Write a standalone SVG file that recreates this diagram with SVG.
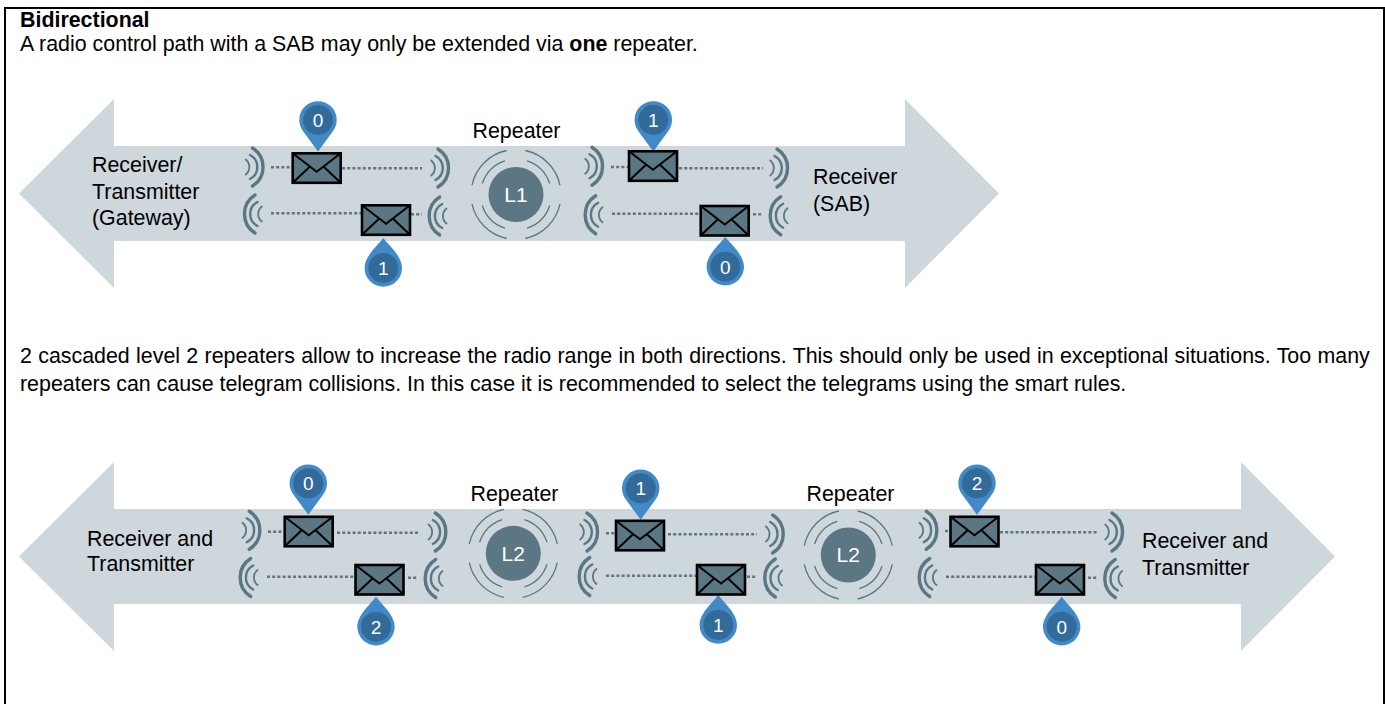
<svg xmlns="http://www.w3.org/2000/svg" xmlns:xlink="http://www.w3.org/1999/xlink" width="1385" height="704" viewBox="0 0 1385 704">
<style>
text{font-family:"Liberation Sans",Arial,sans-serif;font-size:21.4px;fill:#000}
.b{font-weight:bold}
.pt{fill:#fff;font-size:19px;text-anchor:middle}
.rt{fill:#fff;font-size:21px;text-anchor:middle}
.arrow{fill:#ced7dc}
.dot{fill:none;stroke:#5a7783;stroke-width:2.5;stroke-dasharray:3 2.2}
.wv{fill:none;stroke:#5a7783;stroke-linecap:round}
.arc{fill:none;stroke:#5a7783;stroke-width:1.3}
</style>
<defs>
<g id="wr">
<path class="wv" stroke-width="1.8" d="M.2-7.5A9.6 9.6 0 0 1 .2 7.5"/>
<path class="wv" stroke-width="2.4" d="M4.5-12A13.5 13.5 0 0 1 4.5 12"/>
<path class="wv" stroke-width="3.4" d="M7-19A22.4 22.4 0 0 1 7 19"/>
</g>
<g id="env">
<rect x="-24" y="-14.500" width="48" height="29.500" fill="#5a7783" stroke="#000" stroke-width="2.600"/>
<path d="M-24-14.500L0 4 24-14.500M-24 15L-7-1M24 15L7-1" fill="none" stroke="#000" stroke-width="2"/>
</g>
<g id="pd">
<path d="M0 31.500L-14.900 11.200A18.700 18.700 0 1 1 14.900 11.200Z" fill="#4289c8"/>
<circle r="15" fill="#326a9a"/>
</g>
<g id="pu">
<path d="M0-30C-5-23-18.700-12-18.700 0A18.700 18.700 0 1 0 18.700 0C18.700-12 5-23 0-30Z" fill="#4289c8"/>
<circle r="15" fill="#326a9a"/>
</g>
<g id="rep">
<circle r="27.500" fill="#5a7783"/>
<path class="arc" d="M-44-9.400A45 45 0 0 1-9.400-44M9.400-44A45 45 0 0 1 44-9.400M44 9.400A45 45 0 0 1 9.400 44M-9.400 44A45 45 0 0 1-44 9.400"/>
<path class="arc" d="M-33.700-11A35.500 35.500 0 0 1-11-33.700M11-33.700A35.500 35.500 0 0 1 33.700-11M33.700 11A35.500 35.500 0 0 1 11 33.700M-11 33.700A35.500 35.500 0 0 1-33.700 11"/>
</g>
</defs>
<rect width="1385" height="704" fill="#fff"/>
<path id="frame" d="M5 704V8H1384V704" fill="none" stroke="#000" stroke-width="2"/>
<g id="intro">
<text class="b" x="20" y="27">Bidirectional</text>
<text x="20" y="51">A radio control path with a SAB may only be extended via <tspan class="b">one</tspan> repeater.</text>
<text x="20" y="363" word-spacing=".35">2 cascaded level 2 repeaters allow to increase the radio range in both directions. This should only be used in exceptional situations. Too many</text>
<text x="20" y="391" word-spacing="-.1">repeaters can cause telegram collisions. In this case it is recommended to select the telegrams using the smart rules.</text>
</g>
<path id="arrow-top" class="arrow" d="M19 193.500L114 99V146H905V99L999 193.500 905 288V241H114V288Z"/>
<path id="arrow-bottom" class="arrow" d="M19 556.500L114 462V509H1241V462L1335 556.500 1241 651V604H114V651Z"/>
<g id="connectors">
<path class="dot" d="M271 167.300H292M342 168.300H422M271 213.300H361M411 214.300H422"/>
<path class="dot" d="M611 167H628M679 168.300H763M612 213.700H699M753 214.300H763"/>
<path class="dot" d="M268 531.700H283M337 532.700H419M267 576.700H354M408 577.700H417"/>
<path class="dot" d="M606 533.300H615M668 534.300H757M606 575.700H696M747 576.700H757"/>
<path class="dot" d="M945 531H949M1000 532.300H1097M946 576.700H1035M1088 577.700H1097"/>
</g>
<g id="node-gateway"><text x="92" y="172">Receiver/</text><text x="92" y="199">Transmitter</text><text x="92" y="225">(Gateway)</text></g>
<g id="node-sab"><text x="813" y="184">Receiver</text><text x="813" y="211">(SAB)</text></g>
<g id="node-rt-left"><text x="87" y="546">Receiver and</text><text x="87" y="571">Transmitter</text></g>
<g id="node-rt-right"><text x="1142" y="548">Receiver and</text><text x="1142" y="575">Transmitter</text></g>
<g id="waves">
<use xlink:href="#wr" transform="translate(245.500 167)"/>
<use xlink:href="#wr" transform="translate(431 168)"/>
<use xlink:href="#wr" transform="translate(262 214) scale(-1 1)"/>
<use xlink:href="#wr" transform="translate(446.700 216) scale(-1 1)"/>
<use xlink:href="#wr" transform="translate(585 166.300)"/>
<use xlink:href="#wr" transform="translate(770 168)"/>
<use xlink:href="#wr" transform="translate(602.700 214.800) scale(-1 1)"/>
<use xlink:href="#wr" transform="translate(787.700 215.800) scale(-1 1)"/>
<use xlink:href="#wr" transform="translate(242.300 530.300)"/>
<use xlink:href="#wr" transform="translate(428.300 532)"/>
<use xlink:href="#wr" transform="translate(257.700 577.500) scale(-1 1)"/>
<use xlink:href="#wr" transform="translate(442.700 578.500) scale(-1 1)"/>
<use xlink:href="#wr" transform="translate(580 532)"/>
<use xlink:href="#wr" transform="translate(765.700 534)"/>
<use xlink:href="#wr" transform="translate(596.700 576.500) scale(-1 1)"/>
<use xlink:href="#wr" transform="translate(782.300 578) scale(-1 1)"/>
<use xlink:href="#wr" transform="translate(919.300 530.300)"/>
<use xlink:href="#wr" transform="translate(1105 532)"/>
<use xlink:href="#wr" transform="translate(936.700 577.500) scale(-1 1)"/>
<use xlink:href="#wr" transform="translate(1122.300 578.500) scale(-1 1)"/>
</g>
<g id="repeater-1"><use xlink:href="#rep" x="516" y="194.500"/><text class="rt" x="516" y="202">L1</text><text x="516.500" y="138" text-anchor="middle">Repeater</text></g>
<g id="repeater-2"><use xlink:href="#rep" x="513.300" y="553.300"/><text class="rt" x="513.300" y="560.500">L2</text><text x="514.500" y="501" text-anchor="middle">Repeater</text></g>
<g id="repeater-3"><use xlink:href="#rep" x="848.300" y="555"/><text class="rt" x="848.300" y="562">L2</text><text x="850.500" y="501" text-anchor="middle">Repeater</text></g>
<g id="msg-a1"><use xlink:href="#pd" x="318" y="120"/><text class="pt" x="318" y="127">0</text><use xlink:href="#env" x="316.700" y="167.800"/></g>
<g id="msg-a2"><use xlink:href="#pu" x="383.300" y="268"/><text class="pt" x="383.300" y="275">1</text><use xlink:href="#env" x="386" y="219.800"/></g>
<g id="msg-a3"><use xlink:href="#pd" x="653.300" y="120"/><text class="pt" x="653.300" y="127">1</text><use xlink:href="#env" x="653" y="165.800"/></g>
<g id="msg-a4"><use xlink:href="#pu" x="725.300" y="266.700"/><text class="pt" x="725.300" y="274">0</text><use xlink:href="#env" x="724.700" y="220.500"/></g>
<g id="msg-b1"><use xlink:href="#pd" x="308.300" y="483.300"/><text class="pt" x="308.300" y="490">0</text><use xlink:href="#env" x="308.700" y="531.300"/></g>
<g id="msg-b2"><use xlink:href="#pu" x="376" y="626.700"/><text class="pt" x="376" y="634">2</text><use xlink:href="#env" x="379.500" y="579.500"/></g>
<g id="msg-b3"><use xlink:href="#pd" x="640.700" y="488.300"/><text class="pt" x="640.700" y="495">1</text><use xlink:href="#env" x="640" y="535.300"/></g>
<g id="msg-b4"><use xlink:href="#pu" x="718.300" y="625"/><text class="pt" x="718.300" y="632">1</text><use xlink:href="#env" x="721" y="579.500"/></g>
<g id="msg-b5"><use xlink:href="#pd" x="977" y="483.300"/><text class="pt" x="977" y="490">2</text><use xlink:href="#env" x="974.500" y="531.300"/></g>
<g id="msg-b6"><use xlink:href="#pu" x="1061.700" y="626.700"/><text class="pt" x="1061.700" y="634">0</text><use xlink:href="#env" x="1060" y="579.500"/></g>
</svg>
